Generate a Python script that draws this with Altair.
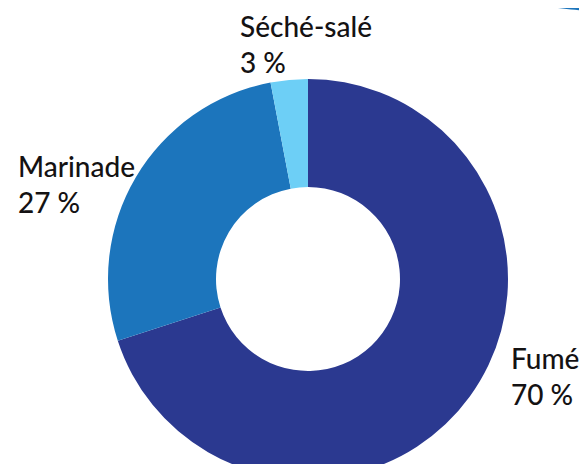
import altair as alt
import pandas as pd

categories = ["Fumé", "Marinade", "Séché-salé"]
values = [70, 27, 3]
pct_labels = ["70 %", "27 %", "3 %"]
colors = ["#2b3990", "#1c75bc", "#6dcff6"]

df = pd.DataFrame({"cat": categories, "val": values, "pct": pct_labels,
                   "order": list(range(len(categories)))})

FONT = "Lato"
FS = 28

donut = alt.Chart(df).mark_arc(radius=200, radius2=92, stroke=None).encode(
    theta=alt.Theta("val:Q", stack=True),
    order=alt.Order("order:Q"),
    color=alt.Color("cat:N", scale=alt.Scale(domain=categories, range=colors), legend=None),
    x=alt.value(300),
    y=alt.value(271),
)

deco = alt.Chart(pd.DataFrame({"d": [1]})).mark_arc(
    radius=296, theta=0, theta2=6.2832, color="#1c75bc"
).encode(x=alt.value(592), y=alt.value(-293))

label_pos = {"Séché-salé": (232, 29), "Marinade": (10, 169), "Fumé": (503, 361)}

layers = [deco, donut]
for c in categories:
    px, py = label_pos[c]
    base = alt.Chart(df).transform_filter(alt.datum.cat == c)
    layers.append(base.mark_text(align="left", baseline="alphabetic", font=FONT,
                                 fontSize=FS, fontWeight=500, color="#141213").encode(
        text="cat:N", x=alt.value(px), y=alt.value(py)))
    layers.append(base.mark_text(align="left", baseline="alphabetic", font=FONT,
                                 fontSize=FS, fontWeight=500, color="#141213").encode(
        text="pct:N", x=alt.value(px), y=alt.value(py + 36)))

chart = alt.layer(*layers).properties(
    width=571, height=456, padding=0,
    autosize=alt.AutoSizeParams(type="none"),
).configure_view(stroke=None)

chart.save("out.html", embed_options={"renderer": "svg", "actions": False})
